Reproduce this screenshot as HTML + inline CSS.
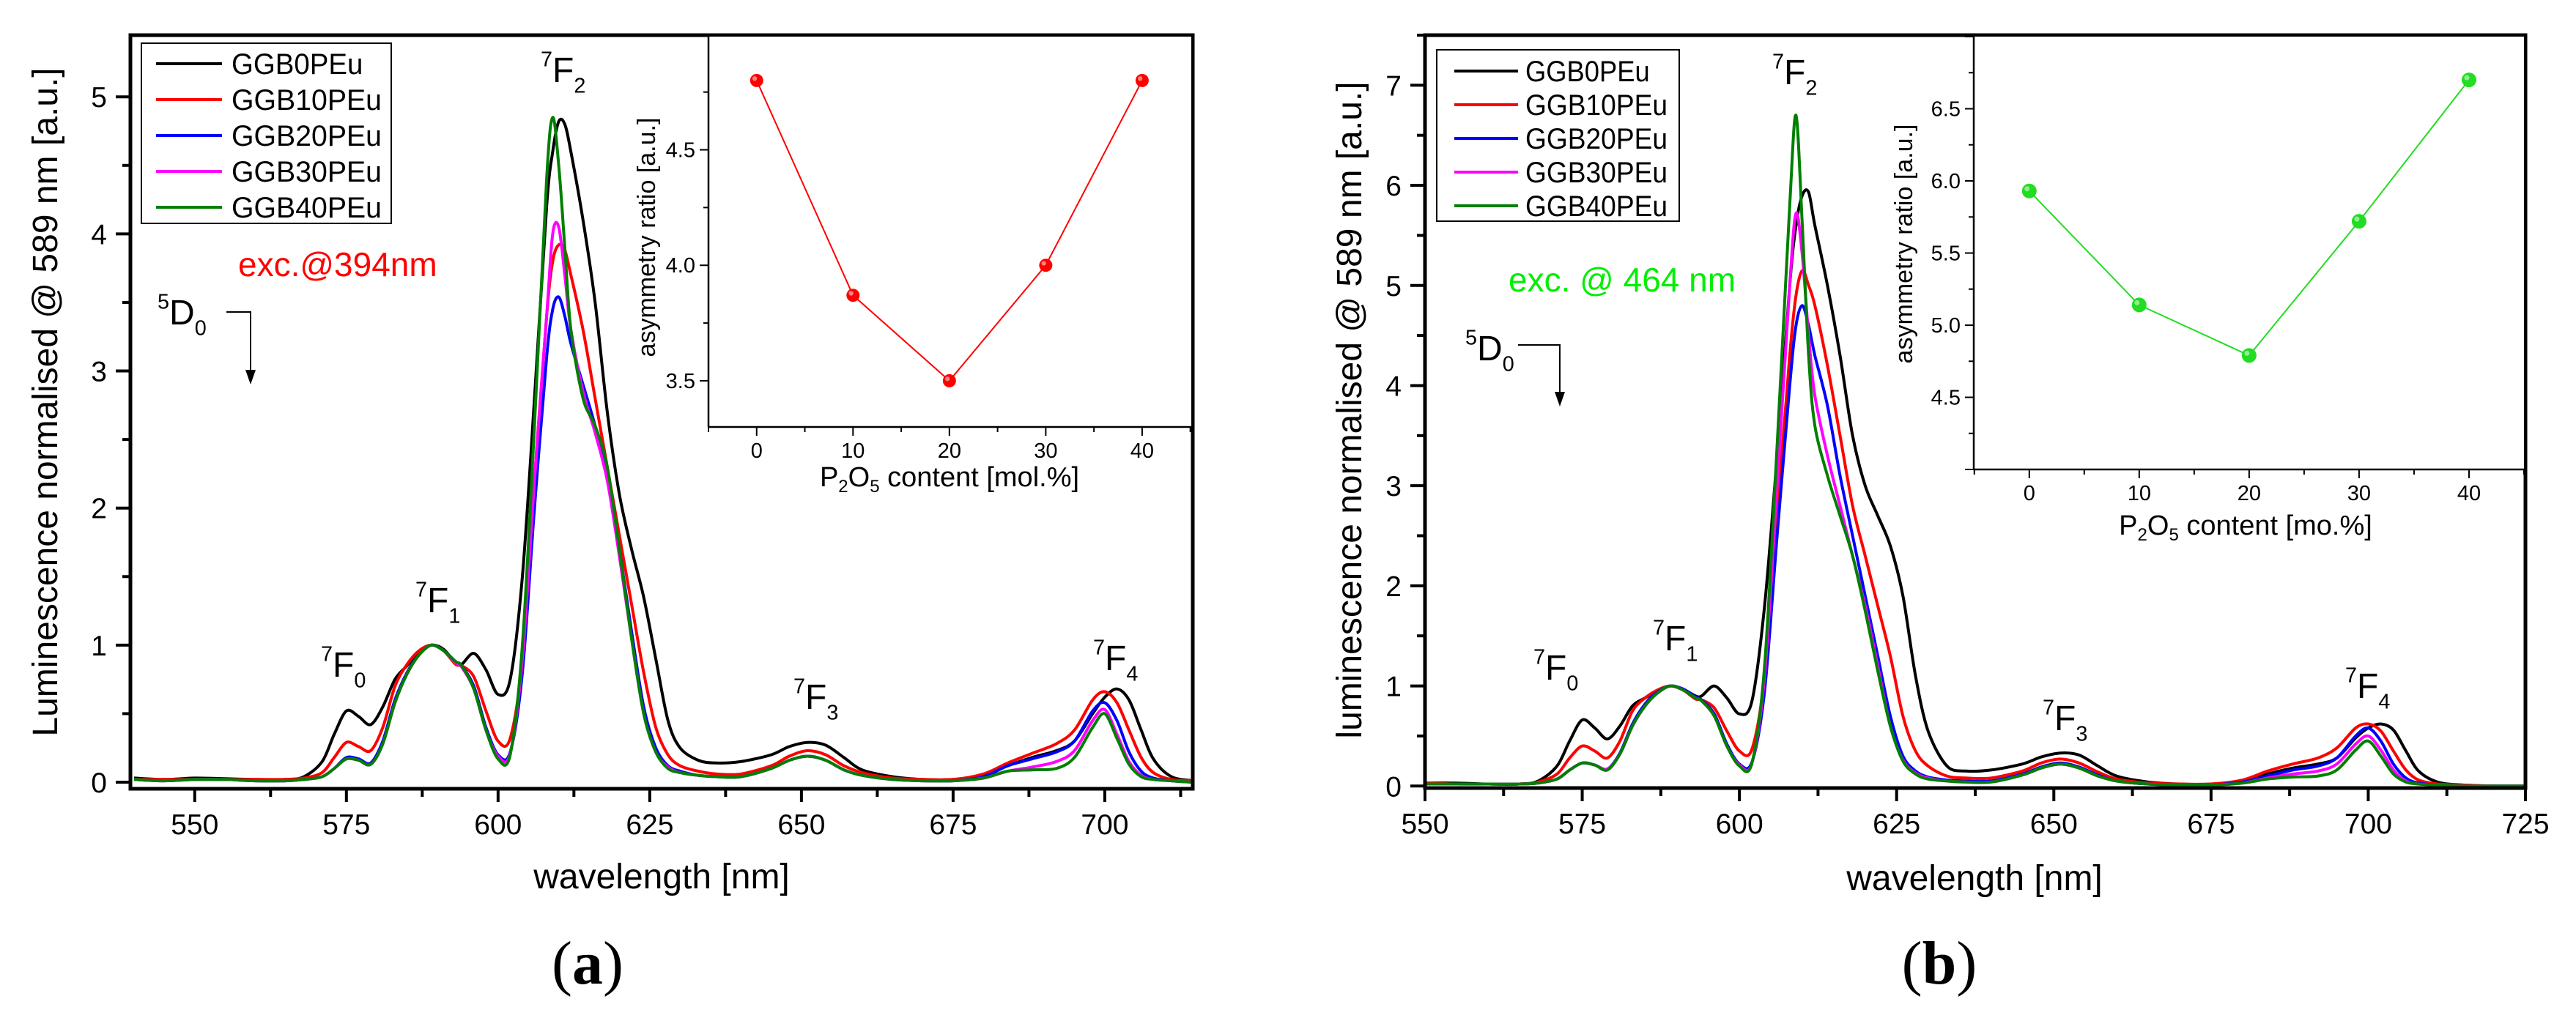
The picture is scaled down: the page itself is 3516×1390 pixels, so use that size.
<!DOCTYPE html>
<html><head><meta charset="utf-8">
<style>
html,body{margin:0;padding:0;background:#fff;}
svg{display:block;font-family:"Liberation Sans",Arial,sans-serif;}
</style></head>
<body>
<svg id="fig" width="3516" height="1390" viewBox="0 0 3516 1390" xmlns="http://www.w3.org/2000/svg"></svg>
<script>
// ---------- DATA ----------
const wavelengths = [540,545,550,555,560,565,568,571,573,575,577,579,581,583,585,587,589,591,593,594,596,598,600,602,604,606,608,609,610,611,612,614,616,618,620,622,624,626,628,630,633,636,640,645,648,651,654,657,660,665,670,675,680,684,688,692,695,698,700,702,704,706,708,711,715,720,725];
const seriesNames = ["GGB0PEu","GGB10PEu","GGB20PEu","GGB30PEu","GGB40PEu"];
// panel (a) exc. 394 nm
const a_GGB0  = [0.03,0.02,0.03,0.025,0.02,0.02,0.04,0.15,0.35,0.52,0.48,0.42,0.55,0.75,0.85,0.95,1.0,0.97,0.87,0.86,0.94,0.82,0.64,0.75,1.5,2.8,4.2,4.6,4.82,4.8,4.6,4.1,3.5,2.7,2.1,1.7,1.35,0.9,0.45,0.25,0.16,0.14,0.15,0.2,0.26,0.29,0.27,0.18,0.09,0.04,0.02,0.02,0.05,0.12,0.18,0.23,0.3,0.5,0.62,0.68,0.6,0.38,0.17,0.04,0.01,0.0,0.0];
const a_GGB10 = [0.02,0.02,0.02,0.02,0.02,0.02,0.03,0.07,0.18,0.29,0.26,0.23,0.4,0.7,0.86,0.96,1.0,0.96,0.86,0.85,0.77,0.52,0.3,0.32,0.9,2.2,3.4,3.8,3.92,3.88,3.7,3.3,2.8,2.3,1.8,1.3,0.8,0.4,0.2,0.12,0.08,0.06,0.06,0.12,0.19,0.23,0.2,0.12,0.07,0.03,0.02,0.02,0.06,0.14,0.21,0.28,0.38,0.6,0.66,0.58,0.38,0.18,0.07,0.02,0.01,0.0,0.0];
const a_GGB20 = [0.02,0.01,0.02,0.02,0.01,0.01,0.02,0.04,0.1,0.18,0.17,0.14,0.3,0.6,0.8,0.93,1.0,0.96,0.88,0.85,0.7,0.4,0.2,0.22,0.8,2.0,3.1,3.45,3.54,3.4,3.2,2.9,2.6,2.25,1.7,1.1,0.55,0.25,0.12,0.08,0.05,0.04,0.04,0.1,0.16,0.19,0.16,0.09,0.05,0.02,0.01,0.01,0.04,0.12,0.17,0.22,0.3,0.52,0.58,0.45,0.22,0.08,0.03,0.01,0.0,0.0,0.0];
const a_GGB30 = [0.02,0.01,0.02,0.02,0.01,0.01,0.02,0.04,0.1,0.17,0.16,0.13,0.28,0.58,0.79,0.93,1.0,0.96,0.87,0.84,0.68,0.38,0.19,0.21,0.9,2.2,3.4,4.0,4.05,3.7,3.3,2.85,2.55,2.2,1.65,1.05,0.5,0.22,0.11,0.07,0.05,0.04,0.04,0.1,0.16,0.19,0.16,0.09,0.05,0.02,0.01,0.01,0.03,0.08,0.11,0.15,0.23,0.45,0.53,0.35,0.15,0.05,0.02,0.01,0.0,0.0,0.0];
const a_GGB40 = [0.02,0.01,0.02,0.02,0.01,0.01,0.02,0.04,0.1,0.17,0.16,0.13,0.28,0.58,0.79,0.93,1.0,0.96,0.88,0.85,0.68,0.38,0.17,0.2,1.0,2.6,4.4,4.85,4.5,3.9,3.3,2.8,2.6,2.3,1.7,1.05,0.5,0.22,0.1,0.07,0.05,0.04,0.04,0.1,0.16,0.19,0.16,0.09,0.05,0.02,0.01,0.01,0.03,0.08,0.09,0.1,0.18,0.4,0.5,0.32,0.13,0.04,0.02,0.01,0.0,0.0,0.0];
// panel (b) exc. 464 nm
const b_GGB0  = [0.04,0.03,0.03,0.03,0.02,0.02,0.05,0.2,0.45,0.66,0.58,0.47,0.6,0.8,0.88,0.95,1.0,0.97,0.9,0.9,1.0,0.88,0.72,0.85,1.8,3.3,5.0,5.6,5.9,5.93,5.6,5.0,4.3,3.5,3.0,2.7,2.4,1.9,1.1,0.55,0.2,0.15,0.16,0.22,0.29,0.33,0.31,0.2,0.1,0.04,0.02,0.02,0.05,0.12,0.18,0.22,0.28,0.48,0.58,0.62,0.56,0.35,0.15,0.04,0.01,0.0,0.0];
const b_GGB10 = [0.03,0.03,0.03,0.02,0.02,0.02,0.04,0.12,0.28,0.4,0.35,0.28,0.45,0.75,0.88,0.96,1.0,0.96,0.87,0.86,0.78,0.55,0.35,0.37,1.1,2.7,4.3,4.9,5.15,5.0,4.8,4.2,3.5,2.8,2.3,1.8,1.3,0.7,0.35,0.2,0.1,0.08,0.08,0.15,0.23,0.27,0.23,0.14,0.07,0.03,0.02,0.02,0.06,0.15,0.22,0.28,0.38,0.58,0.62,0.55,0.35,0.16,0.06,0.02,0.01,0.0,0.0];
const b_GGB20 = [0.03,0.02,0.02,0.02,0.02,0.02,0.03,0.07,0.16,0.23,0.21,0.17,0.33,0.62,0.82,0.94,1.0,0.97,0.89,0.86,0.72,0.42,0.22,0.24,0.95,2.5,4.0,4.6,4.8,4.6,4.3,3.8,3.1,2.5,1.9,1.3,0.7,0.3,0.15,0.09,0.06,0.05,0.05,0.12,0.19,0.23,0.19,0.11,0.05,0.02,0.01,0.01,0.04,0.1,0.16,0.2,0.28,0.5,0.58,0.45,0.22,0.08,0.03,0.01,0.0,0.0,0.0];
const b_GGB30 = [0.03,0.02,0.02,0.02,0.02,0.02,0.03,0.07,0.16,0.23,0.21,0.17,0.32,0.6,0.8,0.93,1.0,0.96,0.88,0.85,0.7,0.4,0.21,0.23,1.1,3.0,5.0,5.72,5.3,4.5,3.9,3.3,2.8,2.3,1.8,1.2,0.6,0.26,0.13,0.08,0.05,0.04,0.04,0.11,0.18,0.22,0.18,0.1,0.05,0.02,0.01,0.01,0.03,0.08,0.12,0.15,0.22,0.42,0.5,0.36,0.16,0.05,0.02,0.01,0.0,0.0,0.0];
const b_GGB40 = [0.03,0.02,0.02,0.02,0.02,0.02,0.03,0.07,0.16,0.23,0.21,0.16,0.32,0.6,0.8,0.93,1.0,0.96,0.88,0.85,0.7,0.4,0.2,0.23,1.2,3.4,5.8,6.7,5.6,4.3,3.6,3.1,2.7,2.3,1.75,1.15,0.6,0.25,0.12,0.07,0.05,0.04,0.04,0.11,0.18,0.22,0.18,0.1,0.05,0.02,0.01,0.01,0.03,0.07,0.09,0.1,0.16,0.36,0.45,0.3,0.12,0.04,0.02,0.01,0.0,0.0,0.0];
// insets
const p2o5Content = [0,10,20,30,40];
const asymA = [4.80,3.87,3.50,4.00,4.80];
const asymB = [5.93,5.14,4.79,5.72,6.70];
const mainXTicks = [550,575,600,625,650,675,700,725];
const insetXTicks = [0,10,20,30,40];
const yTicksA = [0,1,2,3,4,5];
const yTicksB = [0,1,2,3,4,5,6,7];
const insetYTicksA = [3.5,4.0,4.5];
const insetYTicksB = [4.5,5.0,5.5,6.0,6.5];

// ---------- HELPERS ----------
const NS = "http://www.w3.org/2000/svg";
const svg = document.getElementById("fig");
function mk(tag, attrs, parent){
  const e = document.createElementNS(NS, tag);
  for (const k in attrs) e.setAttribute(k, attrs[k]);
  (parent||svg).appendChild(e);
  return e;
}
function lin(d0,d1,r0,r1){ return v => r0 + (v-d0)/(d1-d0)*(r1-r0); }
function smoothPath(pts){
  let d = "M"+pts[0][0].toFixed(1)+","+pts[0][1].toFixed(1);
  for (let i=0;i<pts.length-1;i++){
    const p0=pts[Math.max(0,i-1)], p1=pts[i], p2=pts[i+1], p3=pts[Math.min(pts.length-1,i+2)];
    const t=0.16;
    const c1=[p1[0]+(p2[0]-p0[0])*t, p1[1]+(p2[1]-p0[1])*t];
    const c2=[p2[0]-(p3[0]-p1[0])*t, p2[1]-(p3[1]-p1[1])*t];
    d += " C"+c1[0].toFixed(1)+","+c1[1].toFixed(1)+" "+c2[0].toFixed(1)+","+c2[1].toFixed(1)+" "+p2[0].toFixed(1)+","+p2[1].toFixed(1);
  }
  return d;
}
function label(g, x, y, base, sup, sub, size, color, name){
  const t = mk("text",{x:x,y:y,"font-size":size,fill:color||"#000"},g);
  
  
  if (sup){ const s=mk("tspan",{"font-size":size*0.6,dy:-size*0.45},t); s.textContent=sup; }
  const b=mk("tspan",{dy:sup?size*0.45:0},t); b.textContent=base;
  if (sub){ const s=mk("tspan",{"font-size":size*0.6,dy:size*0.3},t); s.textContent=sub; }
  return t;
}

const colors = ["#000000","#ff0000","#0000ff","#ff00ff","#008000"];

function mainPanel(cfg){
  const g = mk("g",{});
  
  
  const X = lin(cfg.xmin,cfg.xmax,cfg.L,cfg.R), Y = lin(cfg.ymin,cfg.ymax,cfg.B,cfg.T);
  const clipId = cfg.name+"-clip";
  const cp = mk("clipPath",{id:clipId},g); mk("rect",{x:cfg.L,y:cfg.T,width:cfg.R-cfg.L,height:cfg.B-cfg.T},cp);
  cfg.series.forEach((vals,si)=>{
    const pts=[];
    wavelengths.forEach((w,i)=>{ if (w>=cfg.xmin-6 && w<=cfg.xmax+6) pts.push([X(w),Y(vals[i])]); });
    const p = mk("path",{d:smoothPath(pts),fill:"none",stroke:colors[si],"stroke-width":4,"stroke-linejoin":"round","clip-path":"url(#"+clipId+")"},g);
    
    
  });
  const fr = mk("rect",{x:cfg.L,y:cfg.T,width:cfg.R-cfg.L,height:cfg.B-cfg.T,fill:"none",stroke:"#000","stroke-width":5},g);
   
  for (let v=cfg.xTicks[0]-12.5; v<=cfg.xmax; v+=12.5){
    if (v<cfg.xmin) continue;
    const major = cfg.xTicks.includes(v);
    mk("line",{x1:X(v),x2:X(v),y1:cfg.B,y2:cfg.B+(major?18:11),stroke:"#000","stroke-width":4},g);
  }
  cfg.xTicks.forEach(v=>{ if (v>cfg.xmax+0.5) return;
    const t=mk("text",{x:X(v),y:cfg.B+62,"font-size":39,"text-anchor":"middle"},g); t.textContent=v;
      });
  for (let v=0; v<=cfg.ymax; v+=0.5){
    const major = Math.abs(v-Math.round(v))<1e-6;
    mk("line",{x1:cfg.L,x2:cfg.L-(major?20:11),y1:Y(v),y2:Y(v),stroke:"#000","stroke-width":4},g);
  }
  cfg.yTicks.forEach(v=>{
    const t=mk("text",{x:cfg.L-32,y:Y(v)+14,"font-size":39,"text-anchor":"end"},g); t.textContent=v;
      });
  const xt=mk("text",{x:cfg.xtX,y:cfg.xtY,"font-size":48,"text-anchor":"middle"},g); xt.textContent="wavelength [nm]";
   
  const yt=mk("text",{x:0,y:0,"font-size":48,"text-anchor":"middle",transform:"translate("+cfg.ytX+","+cfg.ytY+") rotate(-90)"},g); yt.textContent=cfg.yTitle;
   
  const lg = mk("g",{},g);  
  mk("rect",{x:cfg.lg.x,y:cfg.lg.y,width:cfg.lg.w,height:cfg.lg.h,fill:"#fff",stroke:"#000","stroke-width":2},lg);
  seriesNames.forEach((n,i)=>{
    const yy = cfg.lg.y0 + i*cfg.lg.dy;
    const e = mk("g",{},lg);  
    mk("line",{x1:cfg.lg.lx1,x2:cfg.lg.lx2,y1:yy,y2:yy,stroke:colors[i],"stroke-width":4},e);
    const tw = cfg.lg.tw * n.length/8;
    const t=mk("text",{x:cfg.lg.tx,y:yy+14,"font-size":40,textLength:tw,lengthAdjust:"spacingAndGlyphs"},e); t.textContent=n;
  });
  cfg.ann.forEach(a=>label(g,a[0],a[1],"F","7",a[2],48,"#000","transition-label-7F"+a[2]));
  label(g,cfg.d0[0],cfg.d0[1],"D","5","0",48,"#000","level-label-5D0");
  const ar = mk("path",{d:"M"+cfg.arrow[0]+","+cfg.arrow[1]+" H"+cfg.arrow[2]+" V"+(cfg.arrow[3]-14),fill:"none",stroke:"#000","stroke-width":2},g);
   
  mk("path",{d:"M"+(cfg.arrow[2]-7)+","+(cfg.arrow[3]-20)+" L"+(cfg.arrow[2]+7)+","+(cfg.arrow[3]-20)+" L"+cfg.arrow[2]+","+cfg.arrow[3]+"Z",fill:"#000"},g);
  const ex=mk("text",{x:cfg.exc[0],y:cfg.exc[1],"font-size":46,fill:cfg.exc[3]},g); ex.textContent=cfg.exc[2];
   
  const pl=mk("text",{x:cfg.letter[0],y:cfg.letter[1],"font-size":84,"text-anchor":"middle","font-family":"Liberation Serif, serif"},g);
   
  const s1=mk("tspan",{},pl); s1.textContent="(";
  const s2=mk("tspan",{"font-weight":"bold"},pl); s2.textContent=cfg.letter[2];
  const s3=mk("tspan",{},pl); s3.textContent=")";
  return g;
}

function inset(cfg){
  const g = mk("g",{});  
  const X = lin(cfg.xmin,cfg.xmax,cfg.L,cfg.R), Y = lin(cfg.ymin,cfg.ymax,cfg.B,cfg.T);
  mk("rect",{x:cfg.L,y:cfg.T,width:cfg.R-cfg.L,height:cfg.B-cfg.T,fill:"#fff",stroke:"none"},g);
  mk("line",{x1:cfg.L,x2:cfg.L,y1:cfg.T,y2:cfg.B,stroke:"#000","stroke-width":2.5},g);
  mk("line",{x1:cfg.L,x2:cfg.R,y1:cfg.B,y2:cfg.B,stroke:"#000","stroke-width":2.5},g);
  for (let v=-5; v<=cfg.xmax; v+=5){ if (v<cfg.xmin) continue;
    const major = v%10===0;
    mk("line",{x1:X(v),x2:X(v),y1:cfg.B,y2:cfg.B+(major?12:7),stroke:"#000","stroke-width":2},g); }
  insetXTicks.forEach(v=>{ const t=mk("text",{x:X(v),y:cfg.B+42,"font-size":29,"text-anchor":"middle"},g); t.textContent=v;
      });
  for (let v=Math.ceil(cfg.ymin*4)/4; v<=cfg.ymax+1e-6; v+=0.25){
    const major = Math.abs(v*2-Math.round(v*2))<1e-6;
    mk("line",{x1:cfg.L,x2:cfg.L-(major?12:7),y1:Y(v),y2:Y(v),stroke:"#000","stroke-width":2},g); }
  cfg.yTicks.forEach(v=>{ const t=mk("text",{x:cfg.L-18,y:Y(v)+10,"font-size":29,"text-anchor":"end"},g); t.textContent=v.toFixed(1);
      });
  const pts = p2o5Content.map((c,i)=>X(c)+","+Y(cfg.vals[i])).join(" ");
  const pl = mk("polyline",{points:pts,fill:"none",stroke:cfg.color,"stroke-width":2},g);
   
  p2o5Content.forEach((c,i)=>{
    const m=mk("circle",{cx:X(c),cy:Y(cfg.vals[i]),r:cfg.r,fill:cfg.color},g);
     
    mk("circle",{cx:X(c)-cfg.r*0.3,cy:Y(cfg.vals[i])-cfg.r*0.3,r:cfg.r*0.35,fill:"#fff",opacity:0.5},g);
  });
  const yt=mk("text",{x:0,y:0,"font-size":34,"text-anchor":"middle",transform:"translate("+cfg.ytX+","+cfg.ytY+") rotate(-90)"},g); yt.textContent="asymmetry ratio [a.u.]";
   
  const xt=mk("text",{x:cfg.xtX,y:cfg.xtY,"font-size":38,"text-anchor":"middle"},g);
   
  const a=mk("tspan",{},xt); a.textContent="P";
  const b=mk("tspan",{"font-size":24,dy:8},xt); b.textContent="2";
  const c=mk("tspan",{dy:-8},xt); c.textContent="O";
  const d=mk("tspan",{"font-size":24,dy:8},xt); d.textContent="5";
  const e=mk("tspan",{dy:-8},xt); e.textContent=cfg.xTitleRest;
}

// ---------- PANEL A ----------
mainPanel({name:"panel-a",L:178,R:1628,T:48,B:1077,xmin:539.4,xmax:714.5,ymin:-0.048,ymax:5.45,
  series:[a_GGB0,a_GGB10,a_GGB20,a_GGB30,a_GGB40], xTicks:mainXTicks.slice(0,7), yTicks:yTicksA,
  xtX:903,xtY:1213, ytX:78,ytY:549, yTitle:"Luminescence normalised @ 589 nm [a.u.]",
  lg:{x:193,y:59,w:341,h:246,y0:87,dy:49,lx1:213,lx2:303,tx:316,tw:205},
  ann:[[738,112,"2"],[567,836,"1"],[438,924,"0"],[1083,968,"3"],[1492,915,"4"]],
  d0:[215,443], arrow:[309,426,342,525], exc:[325,377,"exc.@394nm","#ff0000"], letter:[802,1343,"a"]});
inset({name:"inset-a",L:967,R:1626,T:50,B:583,xmin:-5,xmax:45.1,ymin:3.3,ymax:4.99,vals:asymA,color:"#ff0000",r:9,
  yTicks:insetYTicksA, ytX:894,ytY:324, xtX:1296,xtY:664, xTitleRest:" content [mol.%]"});

// ---------- PANEL B ----------
mainPanel({name:"panel-b",L:1945,R:3447,T:48,B:1076,xmin:550,xmax:725,ymin:-0.02,ymax:7.5,
  series:[b_GGB0,b_GGB10,b_GGB20,b_GGB30,b_GGB40], xTicks:mainXTicks, yTicks:yTicksB,
  xtX:2695,xtY:1215, ytX:1858,ytY:560, yTitle:"luminescence normalised @ 589 nm [a.u.]",
  lg:{x:1961,y:68,w:331,h:234,y0:97,dy:46,lx1:1985,lx2:2072,tx:2082,tw:194},
  ann:[[2419,115,"2"],[2256,888,"1"],[2093,928,"0"],[2788,997,"3"],[3201,953,"4"]],
  d0:[2000,492], arrow:[2072,471,2129,555], exc:[2059,398,"exc. @ 464 nm","#00ee00"], letter:[2647,1343,"b"]});
inset({name:"inset-b",L:2694,R:3445,T:50,B:641,xmin:-5.05,xmax:45,ymin:4.0,ymax:7.0,vals:asymB,color:"#22dd22",r:10,
  yTicks:insetYTicksB, ytX:2610,ytY:333, xtX:3065,xtY:730, xTitleRest:" content [mo.%]"});
</script>
</body></html>
